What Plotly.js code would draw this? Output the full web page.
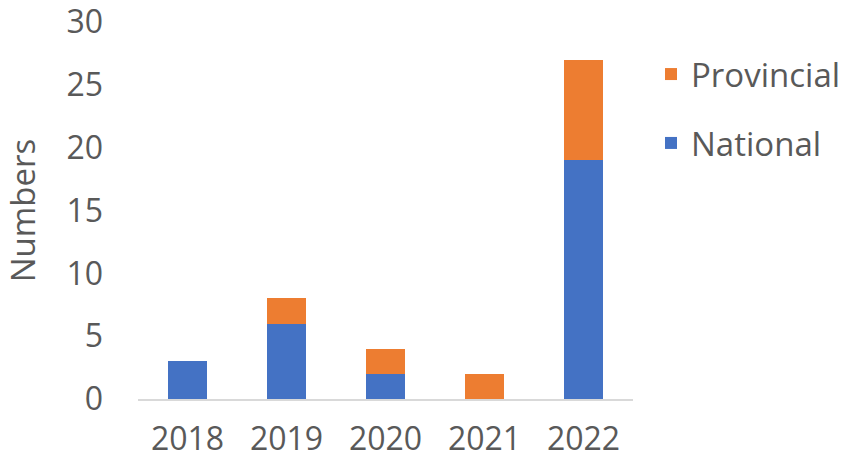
<!DOCTYPE html>
<html><head><meta charset="utf-8">
<script src="https://cdn.plot.ly/plotly-3.0.1.min.js"></script>
<style>body{margin:0;background:#fff}#chart{width:851px;height:461px}</style>
</head><body><div id="chart"></div>
<script>
const years = ['2018','2019','2020','2021','2022'];
const national = [3, 6, 2, 0, 19];
const provincial = [0, 2, 2, 2, 8];
const yTicks = [0, 5, 10, 15, 20, 25, 30];

const font = {family: '"Open Sans", "Noto Sans", sans-serif', color: '#595959', size: 32};
const legendFont = {family: '"Open Sans", "Noto Sans", sans-serif', color: '#595959', size: 33};

const traces = [
  {type: 'bar', name: 'National', x: years, y: national, marker: {color: '#4472C4'}, legendgroup: 'n', legendrank: 2},
  {type: 'bar', name: 'Provincial', x: years, y: provincial, marker: {color: '#ED7D31'}, legendgroup: 'p', legendrank: 1}
];

const layout = {
  width: 851, height: 461,
  margin: {l: 138, r: 218, t: 22, b: 62, autoexpand: false},
  barmode: 'stack', bargap: 0.6,
  paper_bgcolor: '#fff', plot_bgcolor: '#fff',
  font: font,
  xaxis: {showline: true, linecolor: '#D9D9D9', linewidth: 2, ticks: '', showgrid: false, tickfont: font, ticklabelstandoff: 11, automargin: false, ticklabeloverflow: 'allow'},
  yaxis: {range: [0, 30], tickvals: yTicks, showgrid: false, zeroline: false, showline: false, tickfont: font, ticklabelstandoff: 34, automargin: false, ticklabeloverflow: 'allow',
          title: {text: 'Numbers', font: legendFont, standoff: 26}},
  legend: {xref: 'container', yref: 'container', x: 0.765, y: 0.9, xanchor: 'left', yanchor: 'top', traceorder: 'grouped', tracegroupgap: 23, font: legendFont, itemwidth: 30},
  showlegend: true
};
Plotly.newPlot('chart', traces, layout, {displayModeBar: false, staticPlot: true});
</script></body></html>
